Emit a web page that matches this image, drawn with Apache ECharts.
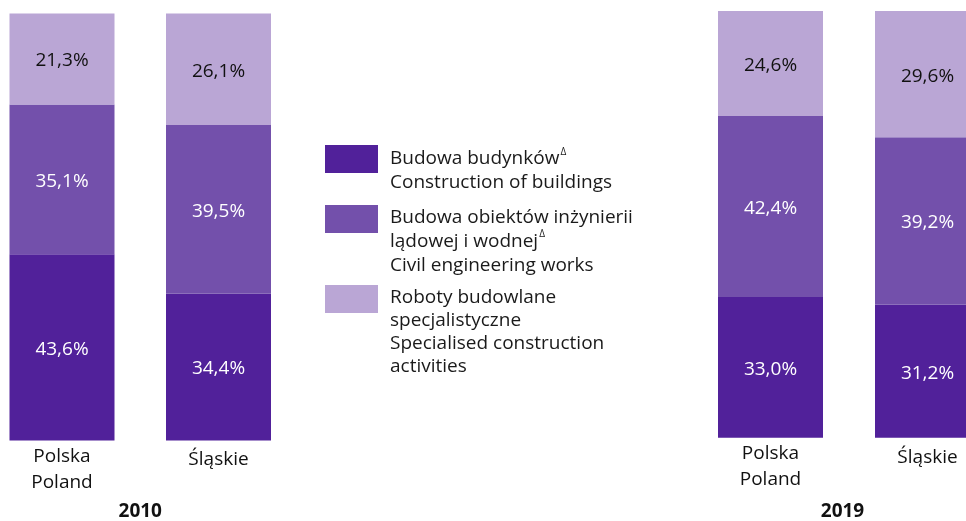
<!DOCTYPE html>
<html>
<head>
<meta charset="utf-8">
<script src="https://cdn.jsdelivr.net/npm/echarts@6/dist/echarts.min.js"></script>
<style>
html,body{margin:0;padding:0;background:#fff;}
#c{width:966px;height:521px;}
</style>
</head>
<body>
<div id="c"></div>
<script>
const years = ['2010', '2019'];
const regions = ['Polska', 'Śląskie'];
const regionsEn = ['Poland', ''];
const seriesNames = ['Budowa budynków', 'Budowa obiektów inżynierii lądowej i wodnej', 'Roboty budowlane specjalistyczne'];
const seriesNamesEn = ['Construction of buildings', 'Civil engineering works', 'Specialised construction activities'];
const buildings2010 = [43.6, 34.4];
const civil2010 = [35.1, 39.5];
const special2010 = [21.3, 26.1];
const buildings2019 = [33.0, 31.2];
const civil2019 = [42.4, 39.2];
const special2019 = [24.6, 29.6];

const colors = ['#51219A', '#7350AB', '#BAA6D5'];
const labelColors = ['#ffffff', '#ffffff', '#111111'];
const FONT = '"Open Sans", "Noto Sans", sans-serif';
const FS = 19;

const fmtPct = v => v.toFixed(1).replace('.', ',') + '%';

function makeSeries(idx, dataArr) {
  return dataArr.map((d, i) => ({
    name: seriesNames[i],
    type: 'bar',
    stack: 'y' + idx,
    xAxisIndex: idx,
    yAxisIndex: idx,
    barWidth: 105,
    data: d,
    itemStyle: { color: colors[i] },
    label: {
      show: true,
      position: 'inside',
      offset: [0, 2],
      color: labelColors[i],
      fontFamily: FONT,
      fontSize: FS,
      formatter: p => fmtPct(p.value)
    },
    emphasis: { disabled: true },
    animation: false
  }));
}

function makeXAxis(idx, nameGap, namePad) {
  return {
    type: 'category',
    gridIndex: idx,
    data: regions,
    axisLine: { show: false },
    axisTick: { show: false },
    axisLabel: {
      margin: 3,
      interval: 0,
      formatter: (v, i) => regionsEn[i] ? '{a|' + v + '}\n{a|' + regionsEn[i] + '}' : '{b|' + v + '}',
      rich: {
        a: { fontFamily: FONT, fontSize: FS, color: '#111', lineHeight: 26 },
        b: { fontFamily: FONT, fontSize: FS, color: '#111', lineHeight: 26, padding: [7, 0, 0, 0] }
      }
    },
    name: years[idx],
    nameLocation: 'middle',
    nameGap: nameGap,
    nameTextStyle: { fontFamily: FONT, fontSize: 19, fontWeight: 'bold', color: '#111', padding: namePad }
  };
}

const legendLines = [
  ['{t|Budowa budynków}{s|Δ}', '{t|' + seriesNamesEn[0] + '}'],
  ['{t|Budowa obiektów inżynierii}', '{t|lądowej i wodnej}{s|Δ}', '{t|' + seriesNamesEn[1] + '}'],
  ['{t|Roboty budowlane}', '{t|specjalistyczne}', '{t|Specialised construction}', '{t|activities}']
];
const legendLH = [24, 24, 23];
const legendPadTop = [24, 45, 66];
const legendTop = [145, 205, 285];

const legends = seriesNames.map((n, i) => ({
  data: [n],
  left: 325,
  top: legendTop[i],
  padding: 0,
  orient: 'vertical',
  icon: 'rect',
  itemWidth: 53,
  itemHeight: 28,
  selectedMode: false,
  formatter: () => legendLines[i].join('\n'),
  textStyle: {
    padding: [legendPadTop[i], 0, 0, 7],
    rich: {
      t: { fontFamily: FONT, fontSize: FS, color: '#1a1a1a', lineHeight: legendLH[i] },
      s: { fontFamily: FONT, fontSize: 10, color: '#1a1a1a', lineHeight: legendLH[i], verticalAlign: 'top', padding: [0, 0, 0, 1] }
    }
  }
}));

const chart = echarts.init(document.getElementById('c'));
chart.setOption({
  animation: false,
  legend: legends,
  grid: [
    { left: -16.25, width: 313, top: 13.5, height: 427, containLabel: false, outerBoundsMode: 'none' },
    { left: 692, width: 314, top: 11, height: 426.7, containLabel: false, outerBoundsMode: 'none' }
  ],
  xAxis: [makeXAxis(0, 61.5, [0, 0, 0, 0]), makeXAxis(1, 64, [0, 13, 0, 0])],
  yAxis: [
    { type: 'value', gridIndex: 0, min: 0, max: 100, show: false },
    { type: 'value', gridIndex: 1, min: 0, max: 100, show: false }
  ],
  series: [
    ...makeSeries(0, [buildings2010, civil2010, special2010]),
    ...makeSeries(1, [buildings2019, civil2019, special2019])
  ]
});
</script>
</body>
</html>
